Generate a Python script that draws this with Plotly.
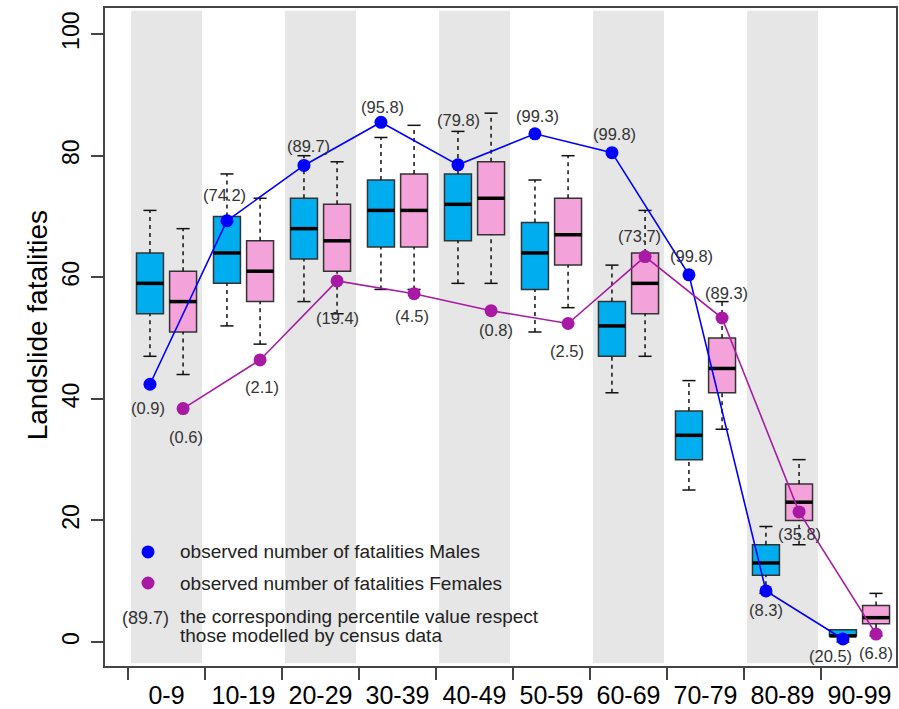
import plotly.graph_objects as go

age_groups = ["0-9", "10-19", "20-29", "30-39", "40-49", "50-59", "60-69", "70-79", "80-89", "90-99"]

male_lw = [47, 52, 56, 58, 59, 51, 41, 25, 8, 0]
male_q1 = [54, 59, 63, 65, 66, 58, 47, 30, 11, 1]
male_med = [59, 64, 68, 71, 72, 64, 52, 34, 13, 1]
male_q3 = [64, 70, 73, 76, 77, 69, 56, 38, 16, 2]
male_uw = [71, 77, 80, 83, 84, 76, 62, 43, 19, 2]

female_lw = [44, 49, 54, 58, 59, 55, 47, 35, 16, 1]
female_q1 = [51, 56, 61, 65, 67, 62, 54, 41, 20, 3]
female_med = [56, 61, 66, 71, 73, 67, 59, 45, 23, 4]
female_q3 = [61, 66, 72, 77, 79, 73, 64, 50, 26, 6]
female_uw = [68, 73, 79, 85, 87, 80, 71, 56, 30, 8]

male_obs = [42.4, 69.3, 78.4, 85.5, 78.5, 83.6, 80.5, 60.4, 8.4, 0.5]
female_obs = [38.4, 46.4, 59.4, 57.3, 54.5, 52.4, 63.4, 53.3, 21.4, 1.3]

male_pct = ["(0.9)", "(74.2)", "(89.7)", "(95.8)", "(79.8)", "(99.3)", "(99.8)", "(99.8)", "(8.3)", "(20.5)"]
female_pct = ["(0.6)", "(2.1)", "(19.4)", "(4.5)", "(0.8)", "(2.5)", "(73.7)", "(89.3)", "(35.8)", "(6.8)"]

# label pixel offsets (screen: +dy = down)
male_dy = [24, -26, -19, -15, -45, -18, -19, -19, 19, 17]
male_dx = [-2, -2, 5, 2, 1, 3, 3, 3, 0, -12]
female_dy = [28, 27, 37, 22, 19, 28, -21, -25, 22, 19]
female_dx = [3, 2, 0, -2, 5, -1, -6, 4, 0, 0]

FONT = "Liberation Sans, Arial, Helvetica, sans-serif"
MALE_FILL = "#00AEEF"
FEMALE_FILL = "#F4A2DA"
MALE_LINE = "#0000FF"
FEMALE_LINE = "#A81AA3"
OFF = 0.215
BW = 0.35
CAP = 0.085

n = len(age_groups)
xm = [i - OFF for i in range(n)]
xf = [i + OFF for i in range(n)]

fig = go.Figure()

# gray bands
for i in range(0, n, 2):
    fig.add_shape(type="rect", xref="x", yref="paper", x0=i - 0.46, x1=i + 0.46,
                  y0=0.004, y1=0.996, fillcolor="#E6E6E6", line_width=0, layer="below")


def whiskers(xs, lw, q1, q3, uw):
    wx, wy, cx, cy = [], [], [], []
    for x, a, b, c, d in zip(xs, lw, q1, q3, uw):
        if d > c:
            wx += [x, x, None]; wy += [c, d, None]
            cx += [x - CAP, x + CAP, None]; cy += [d, d, None]
        if a < b:
            wx += [x, x, None]; wy += [a, b, None]
            cx += [x - CAP, x + CAP, None]; cy += [a, a, None]
    return wx, wy, cx, cy


for xs, lw, q1, med, q3, uw, fill in [
    (xm, male_lw, male_q1, male_med, male_q3, male_uw, MALE_FILL),
    (xf, female_lw, female_q1, female_med, female_q3, female_uw, FEMALE_FILL),
]:
    wx, wy, cx, cy = whiskers(xs, lw, q1, q3, uw)
    fig.add_trace(go.Scatter(x=wx, y=wy, mode="lines", line=dict(color="#111", width=1.5, dash="4px,4px"),
                             hoverinfo="skip", showlegend=False))
    fig.add_trace(go.Scatter(x=cx, y=cy, mode="lines", line=dict(color="#111", width=1.5),
                             hoverinfo="skip", showlegend=False))
    fig.add_trace(go.Box(x=xs, q1=q1, median=med, q3=q3, lowerfence=q1, upperfence=q3,
                         width=BW, fillcolor=fill, line=dict(color="#333", width=1.5),
                         whiskerwidth=0, showlegend=False, hoverinfo="skip"))
    mx, my = [], []
    for x, m in zip(xs, med):
        mx += [x - BW / 2, x + BW / 2, None]; my += [m, m, None]
    fig.add_trace(go.Scatter(x=mx, y=my, mode="lines", line=dict(color="black", width=3.5),
                             hoverinfo="skip", showlegend=False))

fig.add_trace(go.Scatter(x=xm, y=male_obs, mode="lines+markers", line=dict(color=MALE_LINE, width=1.6),
                         marker=dict(color=MALE_LINE, size=13), showlegend=False))
fig.add_trace(go.Scatter(x=xf, y=female_obs, mode="lines+markers", line=dict(color=FEMALE_LINE, width=1.6),
                         marker=dict(color=FEMALE_LINE, size=13), showlegend=False))

for xs, ys, labs, dys, dxs in [(xm, male_obs, male_pct, male_dy, male_dx),
                               (xf, female_obs, female_pct, female_dy, female_dx)]:
    for x, y, t, dy, dx in zip(xs, ys, labs, dys, dxs):
        fig.add_annotation(x=x, y=y, text=t, showarrow=False, xshift=dx, yshift=-dy,
                           xanchor="center", yanchor="middle",
                           font=dict(family=FONT, size=16.5, color="#333"))

# legend (manual)
for py, col in [(0.1733, MALE_LINE), (0.1261, FEMALE_LINE)]:
    fig.add_shape(type="circle", xref="paper", yref="paper", xsizemode="pixel", ysizemode="pixel",
                  xanchor=0.0544, yanchor=py, x0=-6.5, x1=6.5, y0=-6.5, y1=6.5,
                  fillcolor=col, line_width=0)
leg_font = dict(family=FONT, size=19, color="#222")
for py, t in [(0.1733, "observed number of fatalities Males"),
              (0.1261, "observed number of fatalities Females"),
              (0.0745, "the corresponding percentile value respect"),
              (0.0456, "those modelled by census data")]:
    fig.add_annotation(xref="paper", yref="paper", x=0.0923, y=py, text=t, showarrow=False,
                       xanchor="left", yanchor="middle", font=leg_font)
fig.add_annotation(xref="paper", yref="paper", x=0.0835, y=0.0729, text="(89.7)", showarrow=False,
                   xanchor="right", yanchor="middle", font=dict(family=FONT, size=18, color="#333"))

fig.add_annotation(xref="paper", yref="paper", x=-0.0853, y=0.517, text="Landslide fatalities",
                   textangle=-90, showarrow=False, xanchor="center", yanchor="middle",
                   font=dict(family=FONT, size=28, color="black"))

fig.update_layout(
    width=899, height=709,
    margin=dict(l=105, r=3, t=8, b=43, autoexpand=False),
    plot_bgcolor="white", paper_bgcolor="white",
    showlegend=False,
    xaxis=dict(range=[-0.799, 9.474], tickmode="array", tickvals=list(range(n)), ticktext=age_groups,
               ticks="", showgrid=False, zeroline=False, showline=True, mirror=True, automargin=False,
               linecolor="#444", linewidth=1.5, tickfont=dict(family=FONT, size=25, color="black"),
               ticklabelstandoff=6,
               minor=dict(tickmode="array", tickvals=[i - 0.5 for i in range(n)], ticks="outside",
                          ticklen=12, tickwidth=1.5, tickcolor="#444", showgrid=False)),
    yaxis=dict(range=[-3.95, 104.3], tickmode="array", tickvals=[0, 20, 40, 60, 80, 100],
               ticks="outside", ticklen=12, tickwidth=1.5, tickcolor="#444", tickangle=-90,
               showgrid=False, zeroline=False, showline=True, mirror=True, automargin=False,
               linecolor="#444", linewidth=1.5, tickfont=dict(family=FONT, size=23, color="black"),
               ticklabelstandoff=3),
)

fig.write_html("out.html", config={"displayModeBar": False},
               post_script="document.body.style.margin='0px';document.body.style.overflow='hidden';")
